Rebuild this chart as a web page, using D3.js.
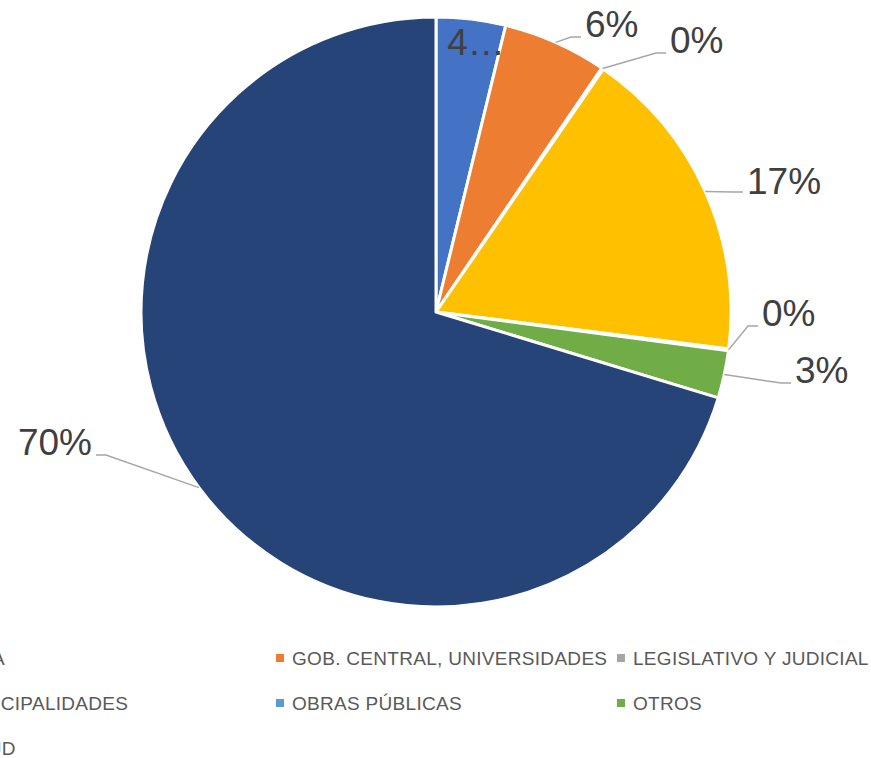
<!DOCTYPE html>
<html><head><meta charset="utf-8">
<script src="https://cdn.jsdelivr.net/npm/d3@7/dist/d3.min.js"></script>
<style>body{margin:0;background:#fff}svg{display:block}</style>
</head><body>
<svg id="chart" width="871" height="758"></svg>
<script>
// ---- data ----
const categories = ["ANDA", "GOB. CENTRAL, UNIVERSIDADES", "LEGISLATIVO Y JUDICIAL", "MUNICIPALIDADES", "OBRAS PÚBLICAS", "OTROS", "SALUD"];
const values = [3.8, 5.7, 0.1, 17.4, 0.1, 2.6, 70.3];
const labelTexts = ["4…", "6%", "0%", "17%", "0%", "3%", "70%"];
const colors = ["#4472C4", "#ED7D31", "#A5A5A5", "#FFC000", "#5B9BD5", "#70AD47", "#264478"];

// ---- layout (not data) ----
const W = 871, H = 758;
const cx = 436, cy = 312, R = 295;
// label text baseline positions relative to pie centre, anchor
const labelLayout = [
  {inside: true, dx: 40, dy: -257},
  {dx: 149, dy: -275, anchor: "start"},
  {dx: 234, dy: -259, anchor: "start"},
  {dx: 311, dy: -118, anchor: "start", lineDy: -2},
  {dx: 326, dy: 14, anchor: "start"},
  {dx: 359, dy: 71, anchor: "start"},
  {dx: -344, dy: 143, anchor: "end"}
];
const legendCols = [-49, 292, 633];
const legendRows = [665, 710, 755];

const svg = d3.select("#chart");
const data = categories.map((c, i) => ({name: c, value: values[i], label: labelTexts[i], color: colors[i], i}));

const pie = d3.pie().sort(null).value(d => d.value).startAngle(0).endAngle(2 * Math.PI);
const arcs = pie(data);
const arc = d3.arc().innerRadius(0).outerRadius(R);

const g = svg.append("g").attr("transform", `translate(${cx},${cy})`);
g.selectAll("path.slice").data(arcs).enter().append("path")
  .attr("class", "slice")
  .attr("d", arc)
  .attr("fill", d => d.data.color)
  .attr("stroke", "#fff")
  .attr("stroke-width", 3)
  .attr("stroke-linejoin", "round");

const labelFont = "'Liberation Sans', Arial, sans-serif";
arcs.forEach((a, k) => {
  const L = labelLayout[k];
  const mid = (a.startAngle + a.endAngle) / 2;
  const px = R * Math.sin(mid), py = -R * Math.cos(mid);
  if (L.inside) {
    g.append("text").attr("x", L.dx).attr("y", L.dy)
      .attr("text-anchor", "middle")
      .attr("font-family", labelFont).attr("font-size", 37)
      .attr("fill", "#404040").text(a.data.label);
    return;
  }
  g.append("text").attr("x", L.dx).attr("y", L.dy)
    .attr("text-anchor", L.anchor)
    .attr("font-family", labelFont).attr("font-size", 37)
    .attr("fill", "#404040").text(a.data.label);
  const sgn = L.anchor === "start" ? -1 : 1;
  const ly = L.dy + (L.lineDy || 0);
  const endX = L.dx + sgn * 4;
  const elbowX = endX + sgn * 10;
  g.append("polyline")
    .attr("points", `${px},${py} ${elbowX},${ly} ${endX},${ly}`)
    .attr("fill", "none").attr("stroke", "#A6A6A6").attr("stroke-width", 1.5);
});

// legend
const lg = svg.append("g");
data.forEach((d, i) => {
  const col = i % 3, row = Math.floor(i / 3);
  const x = legendCols[col], y = legendRows[row];
  lg.append("rect").attr("x", x - 16).attr("y", y - 11).attr("width", 8).attr("height", 8).attr("fill", d.color);
  lg.append("text").attr("x", x).attr("y", y)
    .attr("font-family", labelFont).attr("font-size", 19).attr("letter-spacing", 0.3)
    .attr("fill", "#595959").text(d.name);
});
</script>
</body></html>
